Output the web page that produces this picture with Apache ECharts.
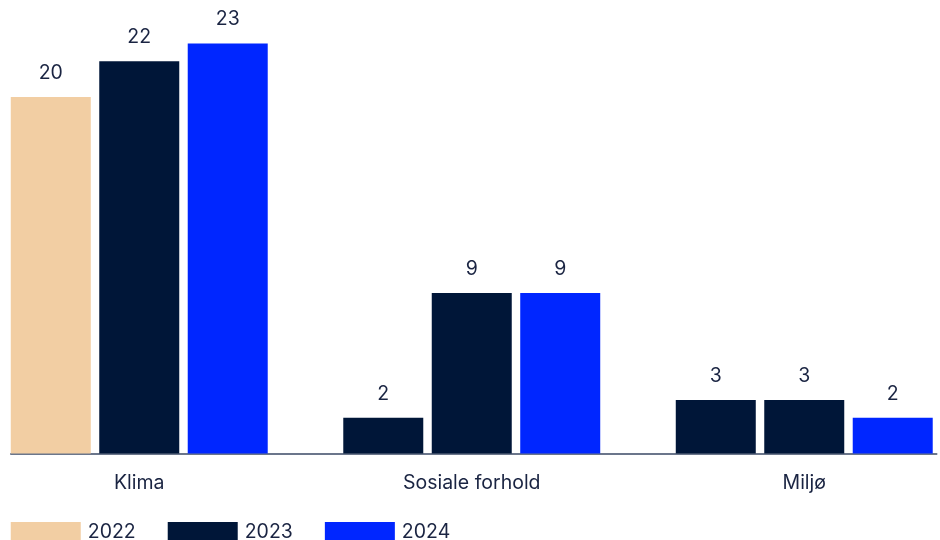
<!DOCTYPE html>
<html>
<head>
<meta charset="utf-8">
<script src="https://cdn.jsdelivr.net/npm/echarts@6/dist/echarts.min.js"></script>
<style>
  html, body { margin: 0; padding: 0; background: #ffffff; overflow: hidden; width: 940px; height: 540px; }
  /* the plot is wider than the window so that the outer category bands run past both edges */
  #chart { position: absolute; left: -26.75px; top: 0; width: 998px; height: 540px; }
</style>
</head>
<body>
<div id="chart"></div>
<script>
// Categories and yearly counts
const categories = ['Klima', 'Sosiale forhold', 'Miljø'];
const years = ['2022', '2023', '2024'];
const values2022 = [20, 2, 3];
const values2023 = [22, 9, 3];
const values2024 = [23, 9, 2];

// Colours per year; some 2022 bars are drawn in the 2023 navy
const yearColors = ['#F2CEA3', '#001638', '#0026FF'];
const colors2022 = ['#F2CEA3', '#001638', '#001638'];

const textColor = '#1A2442';
const fontFamily = 'Inter, "Noto Sans", sans-serif';
const fontSize = 19.5;
const offsetX = 26.75; // shift of the chart box relative to the window

const chart = echarts.init(document.getElementById('chart'), null, { renderer: 'canvas' });

const labelStyle = {
  show: true,
  position: 'top',
  distance: 14,
  color: textColor,
  fontSize: fontSize,
  fontFamily: fontFamily
};

function barSeries(name, values, colorList) {
  return {
    name: name,
    type: 'bar',
    xAxisIndex: 0,
    yAxisIndex: 0,
    barWidth: 80,
    barGap: '10.6%',
    data: values.map((v, i) => ({ value: v, itemStyle: { color: colorList[i] } })),
    itemStyle: { color: colorList[0] },
    label: labelStyle
  };
}

chart.setOption({
  backgroundColor: '#ffffff',
  animation: false,
  color: yearColors,
  legend: {
    left: 11 + offsetX,
    top: 522,
    padding: 0,
    itemWidth: 70,
    itemHeight: 20,
    itemGap: 32,
    icon: 'rect',
    textStyle: { color: textColor, fontSize: fontSize, fontFamily: fontFamily, padding: [0, 0, 0, 2] },
    data: years.map((y, i) => ({ name: y, itemStyle: { color: yearColors[i] } }))
  },
  grid: [
    { left: 0, right: 0.5, top: 7.75, bottom: 86.5, containLabel: false },
    { left: 11 + offsetX, right: 34.25, top: 7.75, bottom: 86.5, containLabel: false }
  ],
  xAxis: [
    {
      type: 'category',
      gridIndex: 0,
      data: categories,
      axisLine: { show: false },
      axisTick: { show: false },
      axisLabel: { color: textColor, fontSize: fontSize, fontFamily: fontFamily, margin: 20 }
    },
    {
      type: 'category',
      gridIndex: 1,
      data: [''],
      axisLine: { show: true, lineStyle: { color: '#3B4A66', width: 1.5 } },
      axisTick: { show: false },
      axisLabel: { show: false },
      z: 0
    }
  ],
  yAxis: [
    { type: 'value', gridIndex: 0, min: 0, max: 25, show: false, splitLine: { show: false } },
    { type: 'value', gridIndex: 1, min: 0, max: 25, show: false, splitLine: { show: false } }
  ],
  series: [
    barSeries('2022', values2022, colors2022),
    barSeries('2023', values2023, [yearColors[1], yearColors[1], yearColors[1]]),
    barSeries('2024', values2024, [yearColors[2], yearColors[2], yearColors[2]])
  ]
});
</script>
</body>
</html>
